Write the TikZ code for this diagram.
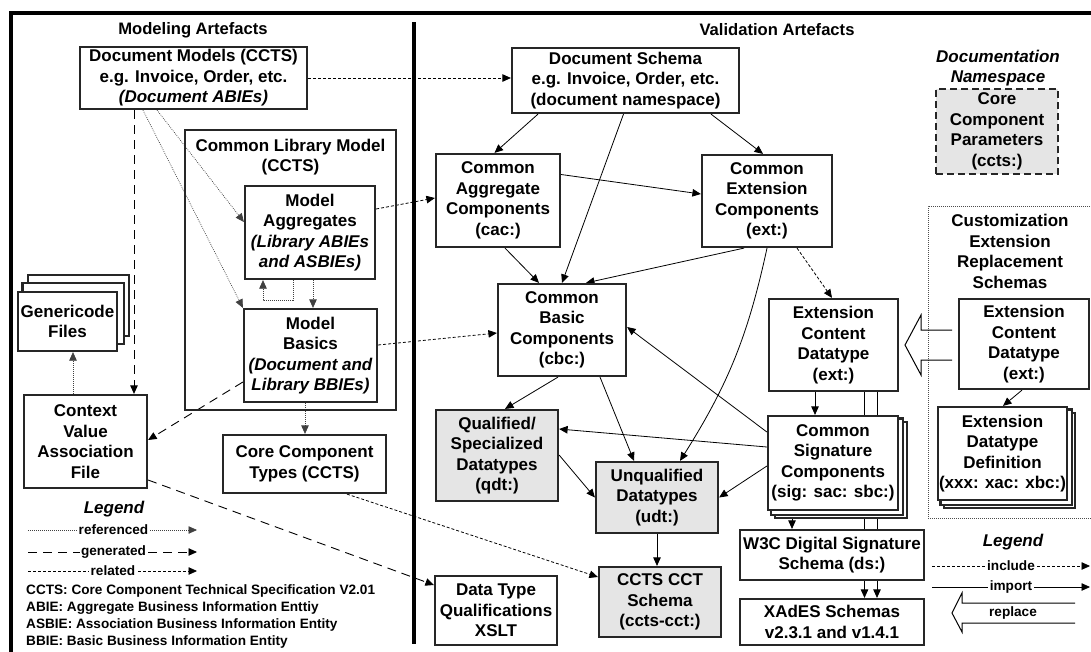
\documentclass[tikz,border=0pt]{standalone}
\usepackage{fontspec}
\setmainfont{Liberation Sans}
\usetikzlibrary{arrows.meta,calc}
\pgfdeclarelayer{conn}
\pgfdeclarelayer{stack}
\pgfsetlayers{conn,stack,main}
\newcommand\boxfont{\fontsize{17}{20.5}\selectfont\bfseries}
\newcommand\legfont{\fontsize{13.6}{17}\selectfont\bfseries}
\newcommand\ttlfont{\fontsize{16.6}{19}\selectfont\bfseries}
\tikzset{
  box/.style={draw=black!85, line width=2.2pt, fill=white, align=center, inner sep=0pt, font=\boxfont},
  gbox/.style={box, fill=gray!20},
  lbl/.style={inner sep=0pt, align=center, font=\boxfont},
  legtxt/.style={inner sep=1.5pt, fill=white, font=\legfont},
  arr/.style={-{Triangle[length=8.5pt,width=7.5pt]}},
  sarr/.style={arr, line width=0.8pt},
  rel/.style={arr, line width=0.8pt, dash pattern=on 3pt off 2pt},
  gen/.style={arr, line width=0.9pt, dash pattern=on 9pt off 6pt},
  refd/.style={arr, line width=0.7pt, black!75, dash pattern=on 0.8pt off 1.2pt},
  hollow/.style={line width=1pt, black, line join=miter},
}
\begin{document}
\begin{tikzpicture}[x=1pt,y=-1pt]
\useasboundingbox (0,0) rectangle (1091,651);

% titles
\node[lbl, font=\ttlfont] (tmod) at (193,30) {Modeling Artefacts};
\node[lbl, font=\ttlfont] (tval) at (777,30) {Validation Artefacts};

% modeling side
\node[box, minimum width=227pt, minimum height=62pt] (dm) at (193.5,78)
  {Document Models (CCTS)\\e.g. Invoice, Order, etc.\\{\itshape(Document ABIEs)}};
\node[box, fill=none, minimum width=211pt, minimum height=280pt] (clm) at (290.5,270) {};
\node[lbl] (clmt) at (290.5,157) {Common Library Model\\(CCTS)};
\node[box, minimum width=130pt, minimum height=93pt] (ma) at (310,232.5)
  {Model\\Aggregates\\{\itshape(Library ABIEs}\\{\itshape and ASBIEs)}};
\node[box, minimum width=133pt, minimum height=93pt] (mb) at (310.5,355.5)
  {Model\\Basics\\{\itshape(Document and}\\{\itshape Library BBIEs)}};
\node[box, minimum width=99pt, minimum height=59pt] (gc) at (67.5,321.5) {Genericode\\Files};
\node[box, minimum width=123pt, minimum height=93pt] (cva) at (85.5,441.5)
  {Context\\Value\\Association\\File};
\node[box, minimum width=163pt, minimum height=58pt] (cct) at (304.5,464) {Core Component\\Types (CCTS)};

% validation side
\node[box, minimum width=227pt, minimum height=65pt] (ds) at (625.5,80.5)
  {Document Schema\\e.g. Invoice, Order, etc.\\(document namespace)};
\node[box, minimum width=124pt, minimum height=93pt] (cac) at (498,200.5)
  {Common\\Aggregate\\Components\\(cac:)};
\node[box, minimum width=130pt, minimum height=92pt] (cec) at (767,201)
  {Common\\Extension\\Components\\(ext:)};
\node[box, minimum width=128pt, minimum height=92pt] (cbc) at (562,330)
  {Common\\Basic\\Components\\(cbc:)};
\node[gbox, minimum width=122pt, minimum height=91pt] (qdt) at (497,455.5)
  {Qualified/\\Specialized\\Datatypes\\(qdt:)};
\node[gbox, minimum width=122pt, minimum height=71pt] (udt) at (657,497.5)
  {Unqualified\\Datatypes\\(udt:)};
\node[gbox, minimum width=122pt, minimum height=70pt] (ccts) at (660,602)
  {CCTS CCT\\Schema\\(ccts-cct:)};
\node[box, minimum width=122pt, minimum height=69pt] (dtq) at (496,610.5)
  {Data Type\\Qualifications\\XSLT};
\node[box, minimum width=129pt, minimum height=92pt] (ecd) at (833.5,345)
  {Extension\\Content\\Datatype\\(ext:)};
\node[box, minimum width=130pt, minimum height=94pt] (csc) at (833,463)
  {Common\\Signature\\Components\\(sig: sac: sbc:)};
\node[box, minimum width=184pt, minimum height=50pt] (w3c) at (832,555)
  {W3C Digital Signature\\Schema (ds:)};
\node[box, minimum width=184pt, minimum height=46pt] (xades) at (832,622)
  {XAdES Schemas\\v2.3.1 and v1.4.1};

% documentation namespace
\node[lbl] (dnt) at (998,68) {\itshape Documentation\\\itshape Namespace};
\node[gbox, dash pattern=on 7pt off 4pt, minimum width=122pt, minimum height=85pt] (ccp) at (997,131.5)
  {Core\\Component\\Parameters\\(ccts:)};

% customization
\node[lbl] (cust) at (1010,251.5) {Customization\\Extension\\Replacement\\Schemas};
\node[box, minimum width=130pt, minimum height=90pt] (ecd2) at (1024,344)
  {Extension\\Content\\Datatype\\(ext:)};
\node[box, minimum width=129pt, minimum height=93pt] (edd) at (1002.5,453.5)
  {Extension\\Datatype\\Definition\\(xxx: xac: xbc:)};

% replace arrow (big)
\draw[hollow] (952,330) -- (921,330) -- (921,315) -- (905,345) -- (921,375) -- (921,360) -- (952,360);

% left legend
\node[lbl, font=\boxfont\itshape] (legl) at (114,509) {Legend};
\node[legtxt] (lref) at (113.5,530) {referenced};
\node[legtxt] (lgen) at (113.5,552) {generated};
\node[legtxt] (lrel) at (113,571) {related};
\node[legtxt, fill=none, anchor=west, inner sep=0pt] (ab1) at (26,591) {CCTS: Core Component Technical Specification V2.01};
\node[legtxt, fill=none, anchor=west, inner sep=0pt] (ab2) at (26,608) {ABIE: Aggregate Business Information Enttiy};
\node[legtxt, fill=none, anchor=west, inner sep=0pt] (ab3) at (26,625) {ASBIE: Association Business Information Entity};
\node[legtxt, fill=none, anchor=west, inner sep=0pt] (ab4) at (26,642) {BBIE: Basic Business Information Entity};

% right legend
\node[lbl, font=\boxfont\itshape] (legr) at (1013,542) {Legend};
\node[legtxt] (linc) at (1011,566) {include};
\node[legtxt] (limp) at (1011,587) {import};
\node[legtxt, fill=none] (lrep) at (1013,613) {replace};
\draw[hollow] (1075,603) -- (962,603) -- (962,593) -- (952,613) -- (962,632) -- (962,623) -- (1075,623);

% stacked back layers
\begin{pgfonlayer}{stack}
  \foreach \s in {2,1} {
    \draw[box] ([shift={(\s*5.5,-\s*8)}]gc.south west) rectangle ([shift={(\s*5.5,-\s*8)}]gc.north east);
    \draw[box] ([shift={(\s*4,\s*3.5)}]csc.south west) rectangle ([shift={(\s*4,\s*3.5)}]csc.north east);
    \draw[box] ([shift={(\s*3.5,\s*3.5)}]edd.south west) rectangle ([shift={(\s*3.5,\s*3.5)}]edd.north east);
  }
\end{pgfonlayer}

% connectors and frame
\begin{pgfonlayer}{conn}
  \draw[line width=3.5pt] (11,660) -- (11,13) -- (1100,13);
  \draw[line width=3.5pt] (414,22) -- (414,644);
  \draw[line width=0.6pt, black!70, dash pattern=on 0.8pt off 1.2pt] (1100,206) -- (928,206) -- (928,518) -- (1100,518);
  % legend lines
  \draw[refd] (28,530) -- (197,530);
  \draw[gen] (28,552) -- (197,552);
  \draw[rel] (28,571) -- (197,571);
  \draw[rel] (932,566) -- (1090,566);
  \draw[sarr] (932,587) -- (1090,587);
  % modeling connectors
  \draw[rel] (dm.east) -- (dm.east -| ds.west);
  \draw[gen] ([xshift=-59.5pt]dm.south) -- ([xshift=-59.5pt]dm.south |- cva.north);
  \draw[refd] ([xshift=-36.5pt]dm.south) -- ([yshift=10.5pt]ma.west);
  \draw[refd] ([xshift=-50.5pt]dm.south) -- (mb.north west);
  \draw[refd] ([xshift=3pt]ma.south) -- ([xshift=3pt]ma.south |- mb.north);
  \draw[refd] ([xshift=-17pt]ma.south) -- ++(0,20) -| ([xshift=-47pt]ma.south);
  \draw[rel] ([yshift=23.5pt]ma.east) -- ([yshift=2.5pt]cac.west);
  \draw[rel] ([yshift=10.5pt]mb.east) -- ([yshift=-3pt]cbc.west);
  \draw[gen] ([yshift=-26.5pt]mb.west) -- ([yshift=1.5pt]cva.east);
  \draw[refd] ([xshift=-5.5pt]mb.south) -- ([xshift=-5.5pt]mb.south |- cct.north);
  \draw[refd] ([xshift=-12.5pt]cva.north) -- ([xshift=-12.5pt]cva.north |- gc.south);
  \draw[gen] ([yshift=-38.5pt]cva.east) -- ([yshift=25.5pt]dtq.west);
  \draw[rel] ([xshift=42.5pt]cct.south) -- ([yshift=25pt]ccts.west);
  % validation connectors
  \draw[sarr] ([xshift=-87.5pt]ds.south) -- ([xshift=-3.5pt]cac.north);
  \draw[sarr] ([xshift=85.5pt]ds.south) -- ([xshift=-4pt]cec.north);
  \draw[sarr] ([xshift=-2pt]ds.south) -- (cbc.north);
  \draw[sarr] ([yshift=26pt]cac.east) -- ([yshift=7pt]cec.west);
  \draw[sarr] ([xshift=7pt]cac.south) -- ([xshift=-23pt]cbc.north);
  \draw[sarr] ([xshift=-23pt]cec.south) -- ([xshift=24pt]cbc.north);
  \draw[sarr] (cec.south) to[bend left=10] ([xshift=23pt]udt.north);
  \draw[sarr] ([xshift=-4pt]cbc.south) -- ([xshift=8pt]qdt.north);
  \draw[sarr] ([xshift=38pt]cbc.south) -- ([xshift=-23pt]udt.north);
  \draw[sarr] ([yshift=0.5pt]qdt.east) -- (udt.west);
  \draw[sarr] ([yshift=31pt]csc.west) -- ([yshift=3pt]cbc.east);
  \draw[sarr] ([yshift=16pt]csc.west) -- ([yshift=26.5pt]qdt.east);
  \draw[sarr] ([yshift=-3pt]csc.west) -- (udt.east);
  \draw[sarr] (udt.south) -- (udt.south |- ccts.north);
  \draw[rel] ([xshift=30pt]cec.south) -- ([xshift=-1.5pt]ecd.north);
  \draw[sarr] ([xshift=-18.5pt]ecd.south) -- ([xshift=-18.5pt]ecd.south |- csc.north);
  \draw[sarr] ([xshift=31pt]ecd.south) -- ([xshift=31pt]ecd.south |- xades.north);
  \draw[sarr] ([xshift=43.5pt]ecd.south) -- ([xshift=43.5pt]ecd.south |- xades.north);
  \draw[sarr] ([xshift=-41pt,yshift=-7pt]csc.south) -- ([xshift=-41pt]csc.south |- w3c.north);
  \draw[sarr] ([xshift=-2pt]ecd2.south) -- ([xshift=0.5pt]edd.north);
\end{pgfonlayer}
\end{tikzpicture}
\end{document}
